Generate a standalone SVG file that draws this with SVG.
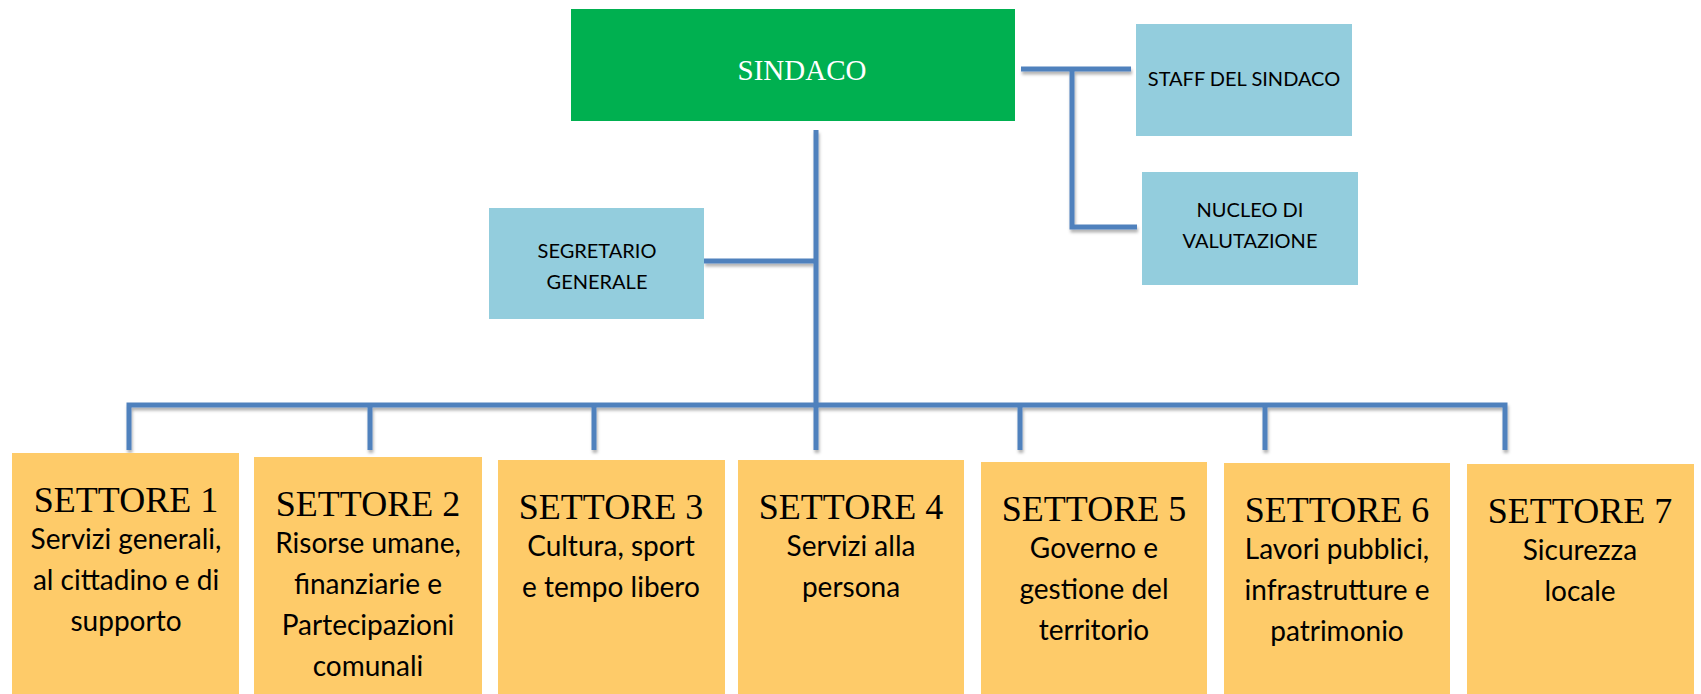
<svg xmlns="http://www.w3.org/2000/svg" width="1701" height="694" viewBox="0 0 1701 694">
<defs>
<filter id="sh" x="-5%" y="-5%" width="110%" height="120%">
<feDropShadow dx="1" dy="3" stdDeviation="1.5" flood-color="#000" flood-opacity="0.3"/>
</filter>
<style>
.ln{fill:none;stroke:#4F81BD;stroke-width:5;stroke-linejoin:miter}
.blue{fill:#93CDDD}
.org{fill:#FECB69}
.hd{font-family:"Liberation Serif","Times New Roman",serif;font-size:36px;fill:#000;text-anchor:middle}
.sb{font-family:Lato,"Liberation Sans",sans-serif;font-size:28px;fill:#000;text-anchor:middle}
.sm{font-family:Lato,"Liberation Sans",sans-serif;font-size:20px;fill:#000;text-anchor:middle}
</style>
</defs>
<rect width="1701" height="694" fill="#fff"/>
<g id="connectors" filter="url(#sh)">
<path class="ln" d="M1021 69 H1131 M1072 69 V227 H1137"/>
<path class="ln" d="M816 130 V450 M704 261 H816"/>
<path class="ln" d="M129 450 V405 H1505 V450 M370 405 V450 M594 405 V450 M1020 405 V450 M1265 405 V450"/>
</g>
<g id="sindaco">
<rect x="571" y="9" width="444" height="112" fill="#00B050"/>
<text x="802" y="80" font-family="Liberation Serif,Times New Roman,serif" font-size="29" fill="#fff" text-anchor="middle">SINDACO</text>
</g>
<g id="staff">
<rect class="blue" x="1136" y="24" width="216" height="112"/>
<text class="sm" x="1244" y="86">STAFF DEL SINDACO</text>
</g>
<g id="nucleo">
<rect class="blue" x="1142" y="172" width="216" height="113"/>
<text class="sm" x="1250" y="217">NUCLEO DI</text>
<text class="sm" x="1250" y="248">VALUTAZIONE</text>
</g>
<g id="segretario">
<rect class="blue" x="489" y="208" width="215" height="111"/>
<text class="sm" x="597" y="258">SEGRETARIO</text>
<text class="sm" x="597" y="289">GENERALE</text>
</g>
<g id="settore1">
<rect class="org" x="12" y="453" width="227" height="241"/>
<text class="hd" x="126" y="512">SETTORE 1</text>
<text class="sb" x="126" y="549">Servizi generali,</text>
<text class="sb" x="126" y="590">al cittadino e di</text>
<text class="sb" x="126" y="631">supporto</text>
</g>
<g id="settore2">
<rect class="org" x="254" y="457" width="228" height="237"/>
<text class="hd" x="368" y="516">SETTORE 2</text>
<text class="sb" x="368" y="553">Risorse umane,</text>
<text class="sb" x="368" y="594">finanziarie e</text>
<text class="sb" x="368" y="635">Partecipazioni</text>
<text class="sb" x="368" y="676">comunali</text>
</g>
<g id="settore3">
<rect class="org" x="498" y="460" width="227" height="234"/>
<text class="hd" x="611" y="519">SETTORE 3</text>
<text class="sb" x="611" y="556">Cultura, sport</text>
<text class="sb" x="611" y="597">e tempo libero</text>
</g>
<g id="settore4">
<rect class="org" x="738" y="460" width="226" height="234"/>
<text class="hd" x="851" y="519">SETTORE 4</text>
<text class="sb" x="851" y="556">Servizi alla</text>
<text class="sb" x="851" y="597">persona</text>
</g>
<g id="settore5">
<rect class="org" x="981" y="462" width="226" height="232"/>
<text class="hd" x="1094" y="521">SETTORE 5</text>
<text class="sb" x="1094" y="558">Governo e</text>
<text class="sb" x="1094" y="599">gestione del</text>
<text class="sb" x="1094" y="640">territorio</text>
</g>
<g id="settore6">
<rect class="org" x="1224" y="463" width="226" height="231"/>
<text class="hd" x="1337" y="522">SETTORE 6</text>
<text class="sb" x="1337" y="559">Lavori pubblici,</text>
<text class="sb" x="1337" y="600">infrastrutture e</text>
<text class="sb" x="1337" y="641">patrimonio</text>
</g>
<g id="settore7">
<rect class="org" x="1467" y="464" width="227" height="230"/>
<text class="hd" x="1580" y="523">SETTORE 7</text>
<text class="sb" x="1580" y="560">Sicurezza</text>
<text class="sb" x="1580" y="601">locale</text>
</g>
</svg>
